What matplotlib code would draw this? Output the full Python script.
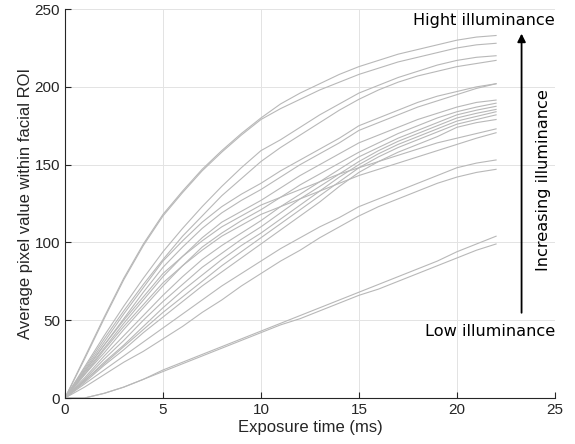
import numpy as np
import matplotlib.pyplot as plt

# exposure times (ms) at which the ROI mean was read
exposure = list(range(0, 23))

# average pixel value inside the facial ROI, one list per illuminance level
roi_a1 = [0, 26, 52, 77, 99, 118, 133, 147, 159, 170, 180, 189, 196, 202, 208, 213, 217, 221, 224, 227, 230, 232, 233]
roi_a2 = [0, 25, 51, 76, 98, 117, 132, 146, 158, 169, 179, 186, 192, 198, 203, 208, 212, 216, 219, 222, 225, 227, 228]
roi_b1 = [0, 20, 40, 59, 77, 94, 109, 123, 136, 148, 159, 166, 174, 182, 189, 196, 201, 206, 210, 214, 217, 219, 220]
roi_b2 = [0, 19, 38, 56, 73, 89, 104, 117, 130, 141, 152, 161, 169, 177, 185, 192, 198, 203, 207, 210, 213, 215, 217]
roi_m1 = [0, 18, 36, 54, 71, 88, 101, 113, 123, 131, 138, 146, 153, 160, 167, 175, 180, 185, 190, 194, 197, 200, 202]
roi_m2 = [0, 17, 34, 51, 68, 84, 97, 109, 119, 127, 134, 142, 150, 157, 164, 172, 177, 182, 187, 191, 195, 199, 202]
roi_m3 = [0, 16, 32, 48, 63, 78, 91, 103, 113, 120, 127, 135, 143, 150, 157, 164, 169, 174, 179, 183, 187, 190, 191.5]
roi_m4 = [0, 15, 29, 44, 58, 72, 85, 97, 106, 114, 121, 129, 137, 144, 151, 158, 164, 170, 175, 180, 184, 187, 189.5]
roi_m5 = [0, 13, 27, 40, 53, 66, 78, 89, 98, 106, 114, 123, 131, 139, 147, 155, 161, 167, 172, 177, 182, 185, 187.5]
roi_m6 = [0, 12, 25, 37, 50, 62, 73, 84, 93, 102, 110, 119, 128, 136, 144, 152, 159, 165, 170, 175, 180, 183, 185.5]
roi_m7 = [0, 11, 23, 34, 46, 58, 69, 79, 89, 98, 106, 115, 124, 133, 142, 150, 157, 163, 168, 173, 178, 181, 184]
roi_m8 = [0, 11, 22, 33, 44, 55, 65, 75, 85, 94, 103, 112, 121, 130, 139, 148, 155, 161, 166, 171, 176, 179, 182]
roi_m9 = [0, 10, 21, 31, 42, 52, 62, 72, 81, 90, 99, 108, 117, 126, 136, 145, 152, 158, 163, 168, 174, 177, 179]
roi_m10 = [0, 17, 34, 50, 65, 80, 91, 101, 110, 117, 124, 129, 134, 139, 144, 148, 152, 156, 160, 164, 167, 170, 173]
roi_m11 = [0, 15, 31, 46, 60, 74, 85, 95, 104, 111, 118, 123, 128, 133, 138, 143, 147, 151, 155, 159, 163, 167, 170.5]
roi_c1 = [0, 9, 18, 27, 36, 45, 54, 63, 72, 80, 88, 96, 103, 110, 116, 123, 128, 133, 138, 143, 148, 151, 153]
roi_c2 = [0, 7, 15, 23, 30, 38, 46, 55, 63, 72, 80, 88, 95, 103, 110, 117, 123, 128, 133, 138, 142, 145, 147]
roi_l1 = [0, 0, 3, 7, 12, 18, 23, 28, 33, 38, 43, 48, 53, 58, 63, 68, 73, 78, 83, 88, 94, 99, 104]
roi_l2 = [0, 0, 3, 7, 12, 17, 22, 27, 32, 37, 42, 47, 51, 56, 61, 66, 70, 75, 80, 85, 90, 95, 99]

curves = [roi_a1, roi_a2, roi_b1, roi_b2, roi_m1, roi_m2, roi_m3, roi_m4, roi_m5,
          roi_m6, roi_m7, roi_m8, roi_m9, roi_m10, roi_m11, roi_c1, roi_c2, roi_l1, roi_l2]

xticks = [0, 5, 10, 15, 20, 25]
yticks = [0, 50, 100, 150, 200, 250]

plt.rcParams['font.family'] = ['Liberation Sans', 'DejaVu Sans']

fig = plt.figure(figsize=(5.75, 4.44), dpi=100)
ax = fig.add_axes([0.113, 0.1036, 0.852, 0.876])

for c in curves:
    ax.plot(exposure, c, color='#b8b8b8', lw=0.8)

ax.set_xlim(0, 25)
ax.set_ylim(0, 250)
ax.set_xticks(xticks)
ax.set_yticks(yticks)
ax.grid(True, color='#e3e3e3', lw=0.7)
ax.set_axisbelow(True)
for s in ['top', 'right']:
    ax.spines[s].set_visible(False)
for s in ['left', 'bottom']:
    ax.spines[s].set_color('#262626')
    ax.spines[s].set_linewidth(0.8)
ax.tick_params(direction='in', length=4, width=0.8, color='#262626',
               labelsize=11, labelcolor='#262626')

ax.set_xlabel('Exposure time (ms)', fontsize=12, color='#262626', labelpad=2)
ax.set_ylabel('Average pixel value within facial ROI', fontsize=12, color='#262626', labelpad=1)

# annotations
ax.text(25, 242.5, 'Hight illuminance', ha='right', va='center', fontsize=11.6,
        family='DejaVu Sans', color='black')
ax.text(25, 42.6, 'Low illuminance', ha='right', va='center', fontsize=11.6,
        family='DejaVu Sans', color='black')
ax.annotate('', xy=(23.3, 236), xytext=(23.3, 53),
            arrowprops=dict(arrowstyle='-|>', color='black', lw=1.3, mutation_scale=12))
ax.text(24.4, 140, 'Increasing illuminance', ha='center', va='center', rotation=90,
        fontsize=11.6, family='DejaVu Sans', color='black')

fig.savefig('out.png', dpi=100)
